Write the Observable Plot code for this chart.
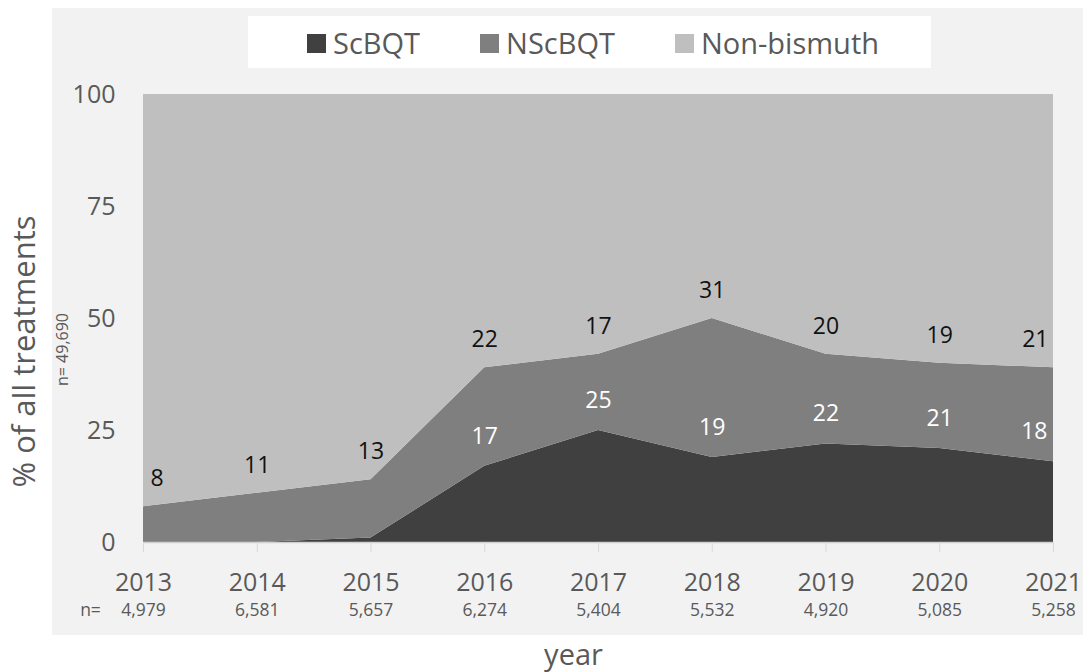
<!DOCTYPE html>
<html>
<head>
<meta charset="utf-8">
<script src="https://cdn.jsdelivr.net/npm/d3@7"></script>
<script src="https://cdn.jsdelivr.net/npm/@observablehq/plot@0.6"></script>
<style>
  html, body { margin: 0; padding: 0; background: #ffffff; }
  #wrap { position: relative; width: 1083px; height: 672px; overflow: hidden; font-family: "Open Sans", sans-serif; }
  #panel { position: absolute; left: 52px; top: 8px; width: 1031px; height: 627px; background: #f2f2f2; }
  #chart { position: absolute; left: 0; top: 0; }
  #legend { position: absolute; left: 248px; top: 16px; width: 683px; height: 52px; background: #ffffff;
            display: flex; align-items: center; box-sizing: border-box; padding-left: 59px;
            font-size: 29px; color: #595959; white-space: nowrap; }
  .item { display: flex; align-items: center; margin-right: 60px; flex: none; }
  .sw { width: 19px; height: 19px; margin-right: 7px; margin-top: 2px; flex: none; }
</style>
</head>
<body>
<div id="wrap">
  <div id="panel"></div>
  <div id="chart"></div>
  <div id="legend"></div>
</div>
<script>
// ---- data ----
const years = [2013, 2014, 2015, 2016, 2017, 2018, 2019, 2020, 2021];
const scbqt = [0, 0, 1, 17, 25, 19, 22, 21, 18];
const nscbqt = [8, 11, 13, 22, 17, 31, 20, 19, 21];
const nonBismuth = [92, 89, 86, 61, 58, 50, 58, 60, 61];
const scbqtLabels = [null, null, null, 17, 25, 19, 22, 21, 18];
const nCounts = ["4,979", "6,581", "5,657", "6,274", "5,404", "5,532", "4,920", "5,085", "5,258"];
const seriesNames = ["ScBQT", "NScBQT", "Non-bismuth"];
const seriesColors = ["#404040", "#7f7f7f", "#bfbfbf"];
const yTicks = [0, 25, 50, 75, 100];
const yTitle = "% of all treatments";
const xTitle = "year";
const totalN = "n= 49,690";

// long table for stacking
const seriesValues = [scbqt, nscbqt, nonBismuth];
const long = [];
seriesNames.forEach((s, k) => years.forEach((yr, i) => long.push({year: yr, series: s, value: seriesValues[k][i]})));

// labels
const topLabels = years.map((yr, i) => ({year: yr, y: scbqt[i] + nscbqt[i], text: String(nscbqt[i]), i}));
const lowLabels = years.map((yr, i) => ({year: yr, y: scbqt[i], text: scbqtLabels[i] == null ? null : String(scbqtLabels[i]), i}))
  .filter(d => d.text != null);
const nRow = years.map((yr, i) => ({year: yr, text: nCounts[i]}));
const last = years.length - 1;

const inner = (arr) => arr.filter(d => d.i !== 0 && d.i !== last);
const first = (arr) => arr.filter(d => d.i === 0);
const lastOf = (arr) => arr.filter(d => d.i === last);

const labelFont = 23;
const topDy = -28, lowDy = -30;

const chart = Plot.plot({
  width: 1083,
  height: 672,
  marginLeft: 143,
  marginRight: 30,
  marginTop: 94,
  marginBottom: 130,
  style: {background: "transparent", color: "#595959", fontFamily: "'Open Sans', sans-serif", overflow: "visible"},
  x: {domain: [years[0], years[last]], label: null},
  y: {domain: [0, 100], label: null},
  color: {domain: seriesNames, range: seriesColors},
  marks: [
    Plot.areaY(long, {x: "year", y: "value", fill: "series", order: seriesNames}),
    Plot.ruleY([0], {stroke: "#d0d0d0", strokeWidth: 1.5}),
    Plot.axisY({ticks: yTicks, tickSize: 0, tickPadding: 28, fontSize: 25, label: null}),
    Plot.axisX({ticks: years, tickFormat: d => String(d), tickSize: 10, tickPadding: 21, stroke: "#d9d9d9", fill: "#595959", fontSize: 25, label: null}),
    // n row
    Plot.text(nRow, {x: "year", y: () => 0, text: "text", dy: 68, fontSize: 17.5, fill: "#595959"}),
    Plot.text(["n="], {x: () => years[0], y: () => 0, text: d => d, dy: 68, dx: -53, fontSize: 17.5, fill: "#595959"}),
    // NScBQT labels (black)
    Plot.text(inner(topLabels), {x: "year", y: "y", text: "text", dy: topDy, fontSize: labelFont, fill: "#111111"}),
    Plot.text(first(topLabels), {x: "year", y: "y", text: "text", dy: topDy, dx: 7, textAnchor: "start", fontSize: labelFont, fill: "#111111"}),
    Plot.text(lastOf(topLabels), {x: "year", y: "y", text: "text", dy: topDy, dx: -5, textAnchor: "end", fontSize: labelFont, fill: "#111111"}),
    // ScBQT labels (white)
    Plot.text(inner(lowLabels), {x: "year", y: "y", text: "text", dy: lowDy, fontSize: labelFont, fill: "#ffffff"}),
    Plot.text(lastOf(lowLabels), {x: "year", y: "y", text: "text", dy: lowDy, dx: -6, textAnchor: "end", fontSize: labelFont, fill: "#ffffff"}),
    // titles
    Plot.text([yTitle], {frameAnchor: "left", text: d => d, rotate: -90, textAnchor: "middle", lineAnchor: "middle", dx: -118, dy: 33, fontSize: 31, fill: "#595959"}),
    Plot.text([totalN], {frameAnchor: "left", text: d => d, rotate: -90, textAnchor: "middle", lineAnchor: "middle", dx: -81, dy: 31, fontSize: 16, fill: "#595959"}),
    Plot.text([xTitle], {frameAnchor: "bottom", text: d => d, textAnchor: "middle", lineAnchor: "middle", dy: 113, dx: -25, fontSize: 29, fill: "#595959"})
  ]
});
document.getElementById("chart").appendChild(chart);

// legend
const legend = document.getElementById("legend");
seriesNames.forEach((s, k) => {
  const item = document.createElement("div");
  item.className = "item";
  const sw = document.createElement("span");
  sw.className = "sw";
  sw.style.background = seriesColors[k];
  const t = document.createElement("span");
  t.textContent = s;
  item.appendChild(sw);
  item.appendChild(t);
  legend.appendChild(item);
});
</script>
</body>
</html>
